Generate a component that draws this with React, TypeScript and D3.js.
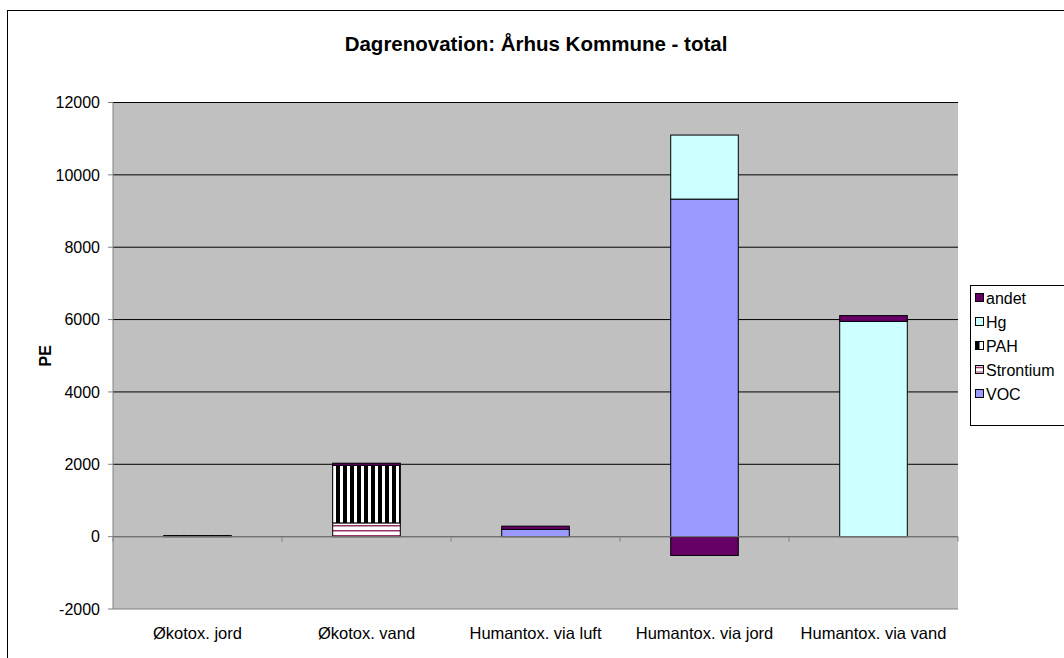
import React from "react";
import * as d3 from "d3";

const categories = ["Økotox. jord", "Økotox. vand", "Humantox. via luft", "Humantox. via jord", "Humantox. via vand"];
const voc = [0, 0, 200, 9330, 0];
const strontium = [0, 380, 0, 0, 0];
const pah = [30, 1590, 0, 0, 0];
const hg = [0, 0, 0, 1770, 5950];
const andet = [0, 60, 90, -520, 160];
const yTicks = [-2000, 0, 2000, 4000, 6000, 8000, 10000, 12000];
const seriesKeys = ["VOC", "Strontium", "PAH", "Hg", "andet"];
const legendOrder = ["andet", "Hg", "PAH", "Strontium", "VOC"];

const W = 1064, H = 658;
const plot = { left: 113, right: 958, top: 102.5, bottom: 609 };
const FONT = "Liberation Sans, Arial, sans-serif";

const fills: Record<string, string> = {
  VOC: "#9999FF",
  Strontium: "url(#patStr)",
  PAH: "url(#patPah)",
  Hg: "#CCFFFF",
  andet: "#660066",
};

export default function App() {
  const rows = categories.map((c, i) => ({
    cat: c,
    VOC: voc[i],
    Strontium: strontium[i],
    PAH: pah[i],
    Hg: hg[i],
    andet: andet[i],
  }));
  const stack = d3.stack<any>().keys(seriesKeys).offset(d3.stackOffsetDiverging);
  const series = stack(rows);

  const x = d3.scaleBand<string>().domain(categories).range([plot.left, plot.right]).paddingInner(0.6).paddingOuter(0.3);
  const y = d3.scaleLinear().domain([-2000, 12000]).range([plot.bottom, plot.top]);
  const step = x.step();
  const catBounds = d3.range(categories.length + 1).map((i) => plot.left + i * step);

  return (
    <svg width={W} height={H} style={{ position: "absolute", left: 0, top: 0, background: "#fff" }}>
      <defs>
        <pattern id="patPah" width={7} height={4} patternUnits="userSpaceOnUse">
          <rect width={7} height={4} fill="#fff" />
          <rect width={4} height={4} fill="#000" />
        </pattern>
        <pattern id="patStr" width={6} height={5} patternUnits="userSpaceOnUse">
          <rect width={6} height={5} fill="#fff" />
          <rect y={0} width={6} height={1.5} fill="#993366" />
        </pattern>
      </defs>
      <rect x={0} y={0} width={W} height={H} fill="#fff" />
      <rect x={7.5} y={10.5} width={W} height={H} fill="none" stroke="#000" strokeWidth={1} />

      <text x={536} y={51} textAnchor="middle" fontFamily={FONT} fontWeight="bold" fontSize={20.5}>
        Dagrenovation: Århus Kommune - total
      </text>

      <rect x={plot.left} y={plot.top} width={plot.right - plot.left} height={plot.bottom - plot.top} fill="#C0C0C0" />
      {yTicks.filter((t) => t !== -2000).map((t) => (
        <line key={t} x1={plot.left} x2={plot.right} y1={y(t)} y2={y(t)} stroke="#000" strokeWidth={1} />
      ))}

      {series.map((s) =>
        s.map((d, i) => {
          const v = (d.data as any)[s.key];
          if (!v) return null;
          const y0 = y(d[0]);
          const y1 = y(d[1]);
          return (
            <rect
              key={s.key + i}
              x={x(categories[i])!}
              y={Math.min(y0, y1)}
              width={x.bandwidth()}
              height={Math.abs(y0 - y1)}
              fill={fills[s.key]}
              stroke="#000"
              strokeWidth={1}
            />
          );
        })
      )}

      {/* axes */}
      <line x1={plot.left} x2={plot.left} y1={plot.top} y2={plot.bottom} stroke="#808080" strokeWidth={1} />
      <line x1={plot.left} x2={plot.right} y1={plot.bottom} y2={plot.bottom} stroke="#808080" strokeWidth={1} />
      <line x1={plot.left} x2={plot.right} y1={y(0)} y2={y(0)} stroke="#808080" strokeWidth={1} />
      {yTicks.map((t) => (
        <g key={"yt" + t}>
          <line x1={plot.left - 5} x2={plot.left} y1={y(t)} y2={y(t)} stroke="#808080" />
          <text x={100} y={y(t)} dy="0.36em" textAnchor="end" fontFamily={FONT} fontSize={16}>
            {t}
          </text>
        </g>
      ))}
      {catBounds.map((b, i) => (
        <line key={"xt" + i} x1={b} x2={b} y1={y(0)} y2={y(0) + 5} stroke="#808080" />
      ))}
      {categories.map((c) => (
        <text key={c} x={x(c)! + x.bandwidth() / 2} y={639} textAnchor="middle" fontFamily={FONT} fontSize={16.5}>
          {c}
        </text>
      ))}
      <text
        transform={`translate(51,${(plot.top + plot.bottom) / 2}) rotate(-90)`}
        textAnchor="middle"
        fontFamily={FONT}
        fontWeight="bold"
        fontSize={16}
      >
        PE
      </text>

      {/* legend */}
      <rect x={970.5} y={285.5} width={120} height={140} fill="#fff" stroke="#000" />
      {legendOrder.map((k, i) => {
        const ly = 298 + i * 24;
        return (
          <g key={k}>
            {k === "PAH" ? (
              <g>
                <rect x={975.5} y={ly - 4.5} width={8} height={8} fill="#fff" stroke="#000" />
                <rect x={975.5} y={ly - 4.5} width={4} height={8} fill="#000" />
              </g>
            ) : k === "Strontium" ? (
              <g>
                <rect x={975.5} y={ly - 4.5} width={8} height={8} fill="#fff" stroke="#000" />
                <line x1={976} x2={983} y1={ly - 2.5} y2={ly - 2.5} stroke="#993366" strokeWidth={1.5} />
                <line x1={976} x2={983} y1={ly + 2} y2={ly + 2} stroke="#993366" strokeWidth={1} />
              </g>
            ) : (
              <rect x={975.5} y={ly - 4.5} width={8} height={8} fill={fills[k]} stroke="#000" />
            )}
            <text x={986} y={ly} dy="0.36em" fontFamily={FONT} fontSize={16}>
              {k}
            </text>
          </g>
        );
      })}
    </svg>
  );
}
